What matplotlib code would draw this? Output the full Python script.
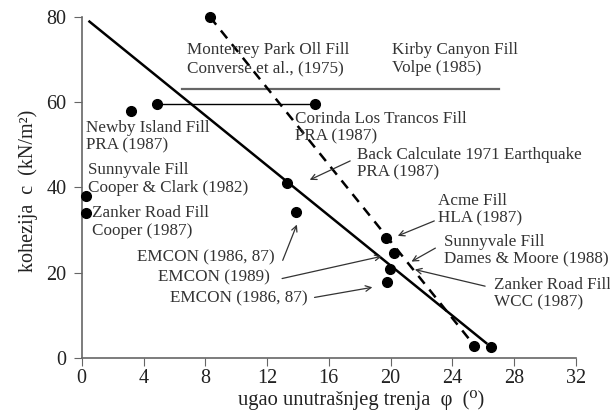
import matplotlib.pyplot as plt

plt.rcParams["font.family"] = ["Liberation Serif", "DejaVu Serif"]

# measured points (phi in degrees, c in kN/m2)
phi = [8.3, 3.2, 4.9, 15.1, 0.3, 0.25, 13.3, 13.9, 19.7, 20.2, 19.95, 19.8, 25.4, 26.5]
coh = [80.0, 58.0, 59.5, 59.5, 38.0, 34.0, 41.0, 34.2, 28.1, 24.6, 20.9, 17.8, 2.8, 2.6]

# Corinda Los Trancos range
range_phi = [4.9, 15.1]
range_c = [59.5, 59.5]

# Kirby Canyon level
kirby_phi = [6.5, 27.0]
kirby_c = [63.1, 63.1]

# trend lines
fit_phi = [0.5, 26.2]
fit_c = [78.9, 3.5]
back_phi = [8.3, 25.3]
back_c = [80.0, 3.5]

plain_labels = [
    ("Monterrey Park Oll Fill\nConverse et al., (1975)", 6.8, 74.0),
    ("Kirby Canyon Fill\nVolpe (1985)", 20.1, 74.0),
    ("Newby Island Fill\nPRA (1987)", 0.3, 55.8),
    ("Corinda Los Trancos Fill\nPRA (1987)", 13.8, 58.0),
    ("Sunnyvale Fill\nCooper & Clark (1982)", 0.4, 45.9),
    ("Zanker Road Fill\nCooper (1987)", 0.65, 35.9),
]

# text, text anchor, arrow tail, arrow head, horizontal alignment
arrow_labels = [
    ("Back Calculate 1971 Earthquake\nPRA (1987)", (17.8, 49.6), (17.55, 46.5), (14.6, 41.5), "left"),
    ("Acme Fill\nHLA (1987)", (23.1, 38.8), (23.0, 32.4), (20.3, 28.4), "left"),
    ("Sunnyvale Fill\nDames & Moore (1988)", (23.45, 29.2), (23.06, 26.1), (21.2, 22.3), "left"),
    ("Zanker Road Fill\nWCC (1987)", (26.7, 19.1), (26.3, 16.7), (21.4, 20.9), "left"),
    ("EMCON (1986, 87)", (12.5, 23.7), (12.95, 22.3), (14.0, 31.9), "right"),
    ("EMCON (1989)", (12.2, 18.8), (12.8, 18.5), (19.6, 24.0), "right"),
    ("EMCON (1986, 87)", (14.6, 13.9), (14.9, 14.1), (19.0, 16.7), "right"),
]

fig = plt.figure(figsize=(6.1, 4.12), dpi=100)
ax = fig.add_axes([0.134, 0.131, 0.81, 0.828])

ax.plot(kirby_phi, kirby_c, color="#666666", lw=1.6)
ax.plot(range_phi, range_c, color="black", lw=1.0)
ax.plot(fit_phi, fit_c, color="black", lw=1.8)
ax.plot(back_phi, back_c, color="black", lw=1.8, ls=(0, (4, 3)))
ax.plot(phi, coh, "o", color="black", ms=7, clip_on=False, zorder=5)

for txt, x, y in plain_labels:
    ax.text(x, y, txt, fontsize=12.3, color="#333333", va="top", ha="left",
            linespacing=1.13)

for txt, pos, tail, head, ha in arrow_labels:
    ax.text(pos[0], pos[1], txt, fontsize=12.3, color="#333333", ha=ha,
            va="top" if ha == "left" else "center", linespacing=1.13)
    ax.annotate("", xy=head, xytext=tail,
                arrowprops=dict(arrowstyle="->", color="#333333", lw=0.9))

ax.set_xlim(0, 32)
ax.set_ylim(0, 80)
ax.set_xticks(range(0, 33, 4))
ax.set_yticks(range(0, 81, 20))
ax.spines["top"].set_visible(False)
ax.spines["right"].set_visible(False)
for side in ("left", "bottom"):
    ax.spines[side].set_color("#666666")
    ax.spines[side].set_linewidth(1.2)
ax.tick_params(length=6, color="#666666", labelsize=14.5, labelcolor="#222222")
ax.tick_params(axis="y", pad=5)
ax.tick_params(axis="x", pad=2)

ax.set_xlabel("ugao unutrašnjeg trenja  φ  (⁰)", fontsize=14.8, color="#222222",
              labelpad=1, x=0.565)
ax.set_ylabel("kohezija  c  (kN/m²)", fontsize=14.5, color="#222222",
              labelpad=6, y=0.49)

fig.savefig("out.png", dpi=100)
